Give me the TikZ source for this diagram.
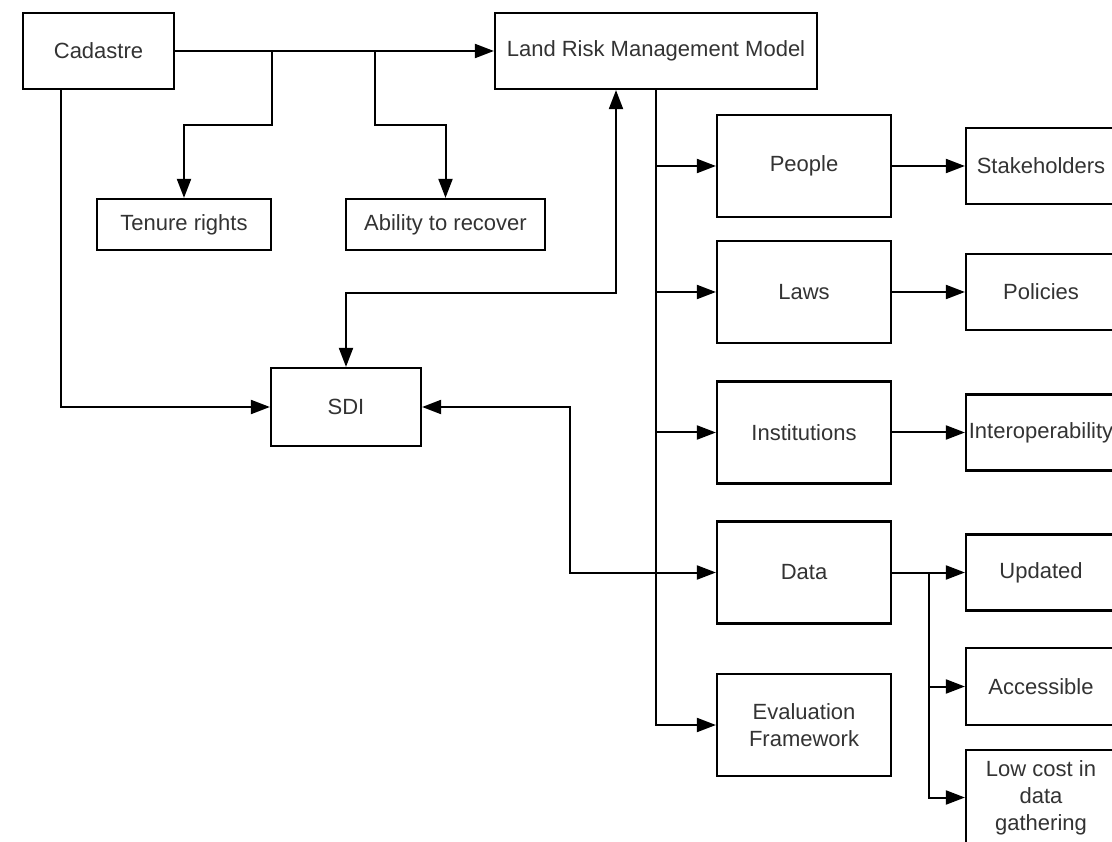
\documentclass[tikz,border=0pt]{standalone}
\usepackage{fontspec}
\setmainfont{Liberation Sans}
\usetikzlibrary{arrows.meta}
\tikzset{box/.style={draw,line width=2.2pt,inner sep=2pt,align=center,text=black!80,
                     font=\fontsize{22}{27}\selectfont},
         arr/.style={line width=2pt,-{Triangle[length=19pt,width=14pt]}},
         arrs/.style={line width=2pt,{Triangle[length=19pt,width=14pt]}-{Triangle[length=19pt,width=14pt]}}}

\begin{document}
\begin{tikzpicture}[x=1pt,y=-1pt]
\useasboundingbox [fill=white] (0,0) rectangle (1112,842);
       \node [box,minimum width=151pt,minimum height=76pt] at (98.5,51) (cad) {Cadastre};
         \node [box,minimum width=322pt,minimum height=76pt] at (656,51) (lrmm) {Land Risk Management Model};
      \node [box,minimum width=174pt,minimum height=51pt] at (184,224.5) (ten) {Tenure rights};
      \node [box,minimum width=199pt,minimum height=51pt] at (445.5,224.5) (abil) {Ability to recover};
          \node [box,minimum width=150pt,minimum height=78pt] at (346,407) (sdi) {SDI};
%
             \node [box,minimum width=174pt,minimum height=102pt] at (804,166) (peop) {People};
             \node [box,minimum width=174pt,minimum height=102pt] at (804,292) (laws) {Laws};
             \node [box,minimum width=174pt,minimum height=102pt] at (804,432.5) (inst) {Institutions};
             \node [box,minimum width=174pt,minimum height=102pt] at (804,572.5) (data) {Data};
             \node [box,minimum width=174pt,minimum height=102pt] at (804,725) (eval) {Evaluation\\ Framework};
%
                 \node [box,minimum width=150pt,minimum height=76pt] at (1041,166) (stak) {Stakeholders};
                 \node [box,minimum width=150pt,minimum height=76pt] at (1041,292) (pol) {Policies};
                 \node [box,minimum width=150pt,minimum height=76pt] at (1041,432.5) (inter) {Interoperability};
                 \node [box,minimum width=150pt,minimum height=76pt] at (1041,572.5) (upd) {Updated};
                 \node [box,minimum width=150pt,minimum height=77pt] at (1041,686.5) (acc) {Accessible};
                 \node [box,minimum width=150pt,minimum height=95pt] at (1041,797.5) (low) {Low cost in\\ data\\ gathering};
%
\coordinate (t1) at (272,51);
\coordinate (t2) at (375,51);
\coordinate (d1) at ([xshift=37pt]data.east);
%
\path[arr] (cad) edge (lrmm);
\draw[arr] (t1) -- ++(0,74) -| (ten.north);
\draw[arr] (t2) -- ++(0,74) -| (abil.north);
\draw[arr] ([xshift=-37.5pt]cad.south) |- (sdi.west);
\draw[arrs] ([xshift=-40pt]lrmm.south) -- ++(0,203) -| (sdi.north);
\draw[arrs] (sdi.east) -- ++(148,0) |- (data.west);
\draw[arr] (lrmm.south) |- (eval.west);
\foreach \n in {peop,laws,inst}
  \draw[arr] (lrmm.south |- \n.west) -- (\n.west);
\path[arr] (peop) edge (stak);
\path[arr] (laws) edge (pol);
\path[arr] (inst) edge (inter);
\path[arr] (data) edge (upd);
\draw[arr] (d1) |- (acc.west);
\draw[arr] (d1) |- (low.west);

\end{tikzpicture}
\end{document}
